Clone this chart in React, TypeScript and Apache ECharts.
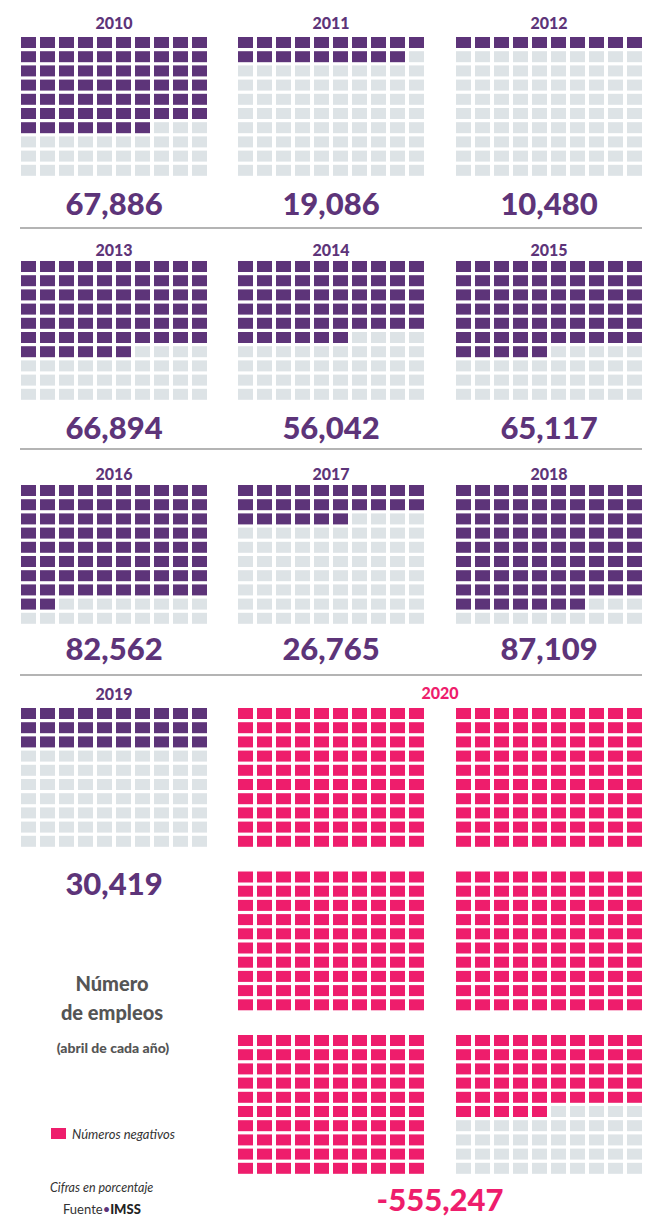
import React, { useEffect, useRef } from "react";
import * as echarts from "echarts";

// ---- data ----
const years = ["2010", "2011", "2012", "2013", "2014", "2015", "2016", "2017", "2018", "2019"];
const values = [67886, 19086, 10480, 66894, 56042, 65117, 82562, 26765, 87109, 30419];
// filled cells (1 cell ≈ 1,000 jobs)
const filledCells = [67, 19, 10, 66, 56, 65, 82, 26, 87, 30];
const year2020 = "2020";
const value2020 = -555247;
const filled2020 = [100, 100, 100, 100, 100, 55];

// ---- style ----
const PURPLE = "#5d3479";
const GRAY = "#dde3e6";
const PINK = "#ee1d6c";
const FONT = "Lato";

const COLS_X = [21, 238, 456];
const ROWS_TOP = [37, 261, 485, 708];
const PITCH_X = 19;
const PITCH_Y = 14.2;
const CELL_W = 15;
const CELL_H = 11;
const TITLE_Y = [22, 249, 473, 693];
const NUM_Y = [203, 427, 648, 883];
const SEP_Y = [228, 449, 675];
const ROW2020_TOP = [708, 871.5, 1035];

function cellsData(filled: number) {
  const d: any[] = [];
  for (let i = 0; i < 100; i++) {
    d.push({ value: [i % 10, Math.floor(i / 10), i < filled ? 1 : 0] });
  }
  return d;
}

export default function App() {
  const ref = useRef<HTMLDivElement>(null);
  useEffect(() => {
    if (!ref.current) return;
    const chart = echarts.init(ref.current, null, { renderer: "svg" });
    const grids: any[] = [];
    const xAxes: any[] = [];
    const yAxes: any[] = [];
    const series: any[] = [];
    const graphics: any[] = [];

    const addWaffle = (x0: number, top: number, filled: number, color: string) => {
      const idx = grids.length;
      grids.push({
        left: x0 - (PITCH_X - CELL_W) / 2,
        top: top - (PITCH_Y - CELL_H) / 2,
        width: PITCH_X * 10,
        height: PITCH_Y * 10,
      });
      xAxes.push({ type: "value", min: -0.5, max: 9.5, show: false, gridIndex: idx });
      yAxes.push({ type: "value", min: -0.5, max: 9.5, inverse: true, show: false, gridIndex: idx });
      series.push({
        type: "scatter",
        xAxisIndex: idx,
        yAxisIndex: idx,
        symbol: "rect",
        symbolSize: [CELL_W, CELL_H],
        silent: true,
        data: cellsData(filled),
        itemStyle: { color: (p: any) => (p.value[2] ? color : GRAY), opacity: 1 },
      });
    };

    years.forEach((y, i) => {
      const col = i < 9 ? i % 3 : 0;
      const row = Math.floor(i / 3);
      const x0 = COLS_X[col];
      addWaffle(x0, ROWS_TOP[row], filledCells[i], PURPLE);
      const cx = x0 + (PITCH_X * 9 + CELL_W) / 2;
      graphics.push({
        type: "text",
        x: cx,
        y: TITLE_Y[row],
        style: { text: y, fill: PURPLE, fontFamily: FONT, fontWeight: 900, fontSize: 16, textAlign: "center", textVerticalAlign: "middle" },
      });
      graphics.push({
        type: "text",
        x: cx,
        y: NUM_Y[row],
        style: { text: values[i].toLocaleString("en-US"), fill: PURPLE, fontFamily: FONT, fontWeight: 900, fontSize: 31, textAlign: "center", textVerticalAlign: "middle" },
      });
    });

    filled2020.forEach((f, i) => {
      const col = 1 + (i % 2);
      const row = Math.floor(i / 2);
      addWaffle(COLS_X[col], ROW2020_TOP[row], f, PINK);
    });
    const cx2020 = (COLS_X[1] + COLS_X[2] + PITCH_X * 9 + CELL_W) / 2;
    graphics.push({
      type: "text",
      x: cx2020,
      y: 692,
      style: { text: year2020, fill: PINK, fontFamily: FONT, fontWeight: 900, fontSize: 16, textAlign: "center", textVerticalAlign: "middle" },
    });
    graphics.push({
      type: "text",
      x: cx2020,
      y: 1199,
      style: { text: value2020.toLocaleString("en-US"), fill: PINK, fontFamily: FONT, fontWeight: 900, fontSize: 31, textAlign: "center", textVerticalAlign: "middle" },
    });

    SEP_Y.forEach((y) => {
      graphics.push({ type: "line", shape: { x1: 20, y1: y, x2: 642, y2: y }, style: { stroke: "#b4b4b4", lineWidth: 2 } });
    });

    const gray = "#555555";
    graphics.push({ type: "text", x: 112, y: 983, style: { text: "Número", fill: gray, fontFamily: FONT, fontWeight: 900, fontSize: 20, textAlign: "center", textVerticalAlign: "middle" } });
    graphics.push({ type: "text", x: 112, y: 1012, style: { text: "de empleos", fill: gray, fontFamily: FONT, fontWeight: 900, fontSize: 20, textAlign: "center", textVerticalAlign: "middle" } });
    graphics.push({ type: "text", x: 113, y: 1047, style: { text: "(abril de cada año)", fill: gray, fontFamily: FONT, fontWeight: 900, fontSize: 14, textAlign: "center", textVerticalAlign: "middle" } });
    graphics.push({ type: "rect", shape: { x: 51, y: 1128, width: 15, height: 11 }, style: { fill: PINK } });
    graphics.push({ type: "text", x: 72, y: 1134, style: { text: "Números negativos", fill: "#333333", fontFamily: FONT, fontStyle: "italic", fontSize: 13, textAlign: "left", textVerticalAlign: "middle" } });
    graphics.push({ type: "text", x: 50, y: 1187, style: { text: "Cifras en porcentaje", fill: "#333333", fontFamily: FONT, fontStyle: "italic", fontSize: 12.5, textAlign: "left", textVerticalAlign: "middle" } });
    graphics.push({
      type: "text",
      x: 63,
      y: 1209,
      style: {
        text: "{a|Fuente}{b|•}{c|IMSS}",
        textAlign: "left",
        textVerticalAlign: "middle",
        rich: {
          a: { fill: "#333333", fontFamily: FONT, fontSize: 13 },
          b: { fill: PURPLE, fontFamily: FONT, fontSize: 13 },
          c: { fill: "#222222", fontFamily: FONT, fontWeight: 900, fontSize: 13 },
        },
      },
    });

    chart.setOption({
      animation: false,
      backgroundColor: "#ffffff",
      grid: grids,
      xAxis: xAxes,
      yAxis: yAxes,
      series,
      graphic: graphics,
    });
    return () => chart.dispose();
  }, []);
  return <div ref={ref} style={{ position: "absolute", left: 0, top: 0, width: 648, height: 1217 }} />;
}
